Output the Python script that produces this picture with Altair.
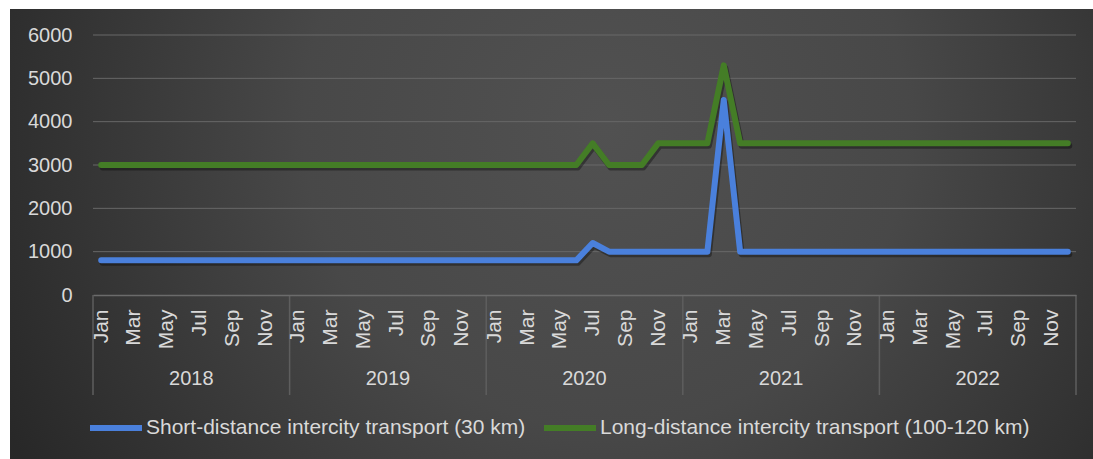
import json
import altair as alt
import pandas as pd

# ---------------- data ----------------
month_names = ["Jan", "Feb", "Mar", "Apr", "May", "Jun",
               "Jul", "Aug", "Sep", "Oct", "Nov", "Dec"]
years = ["2018", "2019", "2020", "2021", "2022"]
series_names = ["Short-distance intercity transport (30 km)",
                "Long-distance intercity transport (100-120 km)"]
series_colors = ["#4a80dc", "#447d26"]

short_values = [
    800, 800, 800, 800, 800, 800, 800, 800, 800, 800, 800, 800,          # 2018
    800, 800, 800, 800, 800, 800, 800, 800, 800, 800, 800, 800,          # 2019
    800, 800, 800, 800, 800, 800, 1200, 1000, 1000, 1000, 1000, 1000,    # 2020
    1000, 1000, 4500, 1000, 1000, 1000, 1000, 1000, 1000, 1000, 1000, 1000,  # 2021
    1000, 1000, 1000, 1000, 1000, 1000, 1000, 1000, 1000, 1000, 1000, 1000,  # 2022
]
long_values = [
    3000, 3000, 3000, 3000, 3000, 3000, 3000, 3000, 3000, 3000, 3000, 3000,  # 2018
    3000, 3000, 3000, 3000, 3000, 3000, 3000, 3000, 3000, 3000, 3000, 3000,  # 2019
    3000, 3000, 3000, 3000, 3000, 3000, 3500, 3000, 3000, 3000, 3500, 3500,  # 2020
    3500, 3500, 5300, 3500, 3500, 3500, 3500, 3500, 3500, 3500, 3500, 3500,  # 2021
    3500, 3500, 3500, 3500, 3500, 3500, 3500, 3500, 3500, 3500, 3500, 3500,  # 2022
]
y_ticks = [0, 1000, 2000, 3000, 4000, 5000, 6000]

# ---------------- tables ----------------
n = len(short_values)
short_df = pd.DataFrame({"idx": range(n), "value": short_values, "series": series_names[0]})
long_df = pd.DataFrame({"idx": range(n), "value": long_values, "series": series_names[1]})
all_df = pd.concat([short_df, long_df], ignore_index=True)
year_df = pd.DataFrame({"year": years, "mid": [5.5 + 12 * k for k in range(len(years))]})
sep_df = pd.DataFrame({"b": [-0.5 + 12 * k for k in range(len(years) + 1)]})
grid_df = pd.DataFrame({"g": y_ticks[1:]})

FONT = "Liberation Sans"
TXT = "#d9d9d9"
W, H = 983, 260
PAD = {"left": 93, "top": 35, "right": 17, "bottom": 164}

xscale = alt.Scale(domain=[-0.5, n - 0.5], nice=False, zero=False)
yscale = alt.Scale(domain=[0, 6000], nice=False)
cscale = alt.Scale(domain=series_names, range=series_colors)

label_expr = json.dumps(month_names) + "[datum.value % 12]"

x_axis = alt.Axis(
    values=list(range(0, n, 2)), labelExpr=label_expr, labelAngle=-90,
    labelAlign="right", labelBaseline="middle",
    labelFont=FONT, labelFontSize=21, labelColor=TXT, labelPadding=14,
    ticks=False, tickSize=0, domain=True, domainColor="#6b6b6b", domainWidth=1.5,
    grid=False, title=None, labelOverlap=False, labelFlush=False, labelBound=False,
    zindex=1,
)
y_axis = alt.Axis(
    values=y_ticks, format="d", labelFont=FONT, labelFontSize=20, labelColor=TXT,
    labelPadding=21, ticks=False, tickSize=0, domain=False, grid=False,
    title=None, zindex=1,
)

# background panel
bg = alt.Chart(pd.DataFrame({"a": [0]})).mark_rect(
    fill=alt.RadialGradient(
        gradient="radial",
        x1=0.55, y1=0.4, r1=0.0,
        x2=0.55, y2=0.4, r2=0.62,
        stops=[alt.GradientStop(color="#515151", offset=0.0),
               alt.GradientStop(color="#484848", offset=0.45),
               alt.GradientStop(color="#282828", offset=1.0)],
    )
).encode(
    x=alt.value(10 - PAD["left"]), x2=alt.value(1093 - PAD["left"]),
    y=alt.value(9 - PAD["top"]), y2=alt.value(459 - PAD["top"]),
)

grid = alt.Chart(grid_df).mark_rule(color="#686868", strokeWidth=1).encode(
    y=alt.Y("g:Q", scale=yscale, axis=y_axis)
)

seps = alt.Chart(sep_df).mark_rule(color="#5e5e5e", strokeWidth=1.5).encode(
    x=alt.X("b:Q", scale=xscale, axis=x_axis),
    y=alt.value(H), y2=alt.value(H + 100),
)

year_text = alt.Chart(year_df).mark_text(
    font=FONT, fontSize=20, color=TXT, baseline="middle", align="center"
).encode(
    x=alt.X("mid:Q", scale=xscale, axis=x_axis),
    y=alt.value(379 - PAD["top"]),
    text="year:N",
)

shadow = alt.Chart(all_df).mark_line(
    color="#000000", opacity=0.35, strokeWidth=6, strokeJoin="round",
    strokeCap="round", xOffset=1.5, yOffset=2.5
).encode(
    x=alt.X("idx:Q", scale=xscale, axis=x_axis),
    y=alt.Y("value:Q", scale=yscale, axis=y_axis),
    detail="series:N",
)

legend = alt.Legend(
    orient="none", legendX=-6, legendY=364, direction="horizontal",
    symbolType="stroke", symbolStrokeWidth=6, symbolSize=2704,
    labelFont=FONT, labelFontSize=21, labelColor=TXT, labelLimit=800,
    labelOffset=1, columnPadding=6, title=None, padding=0,
)

def series_layer(df):
    return alt.Chart(df).mark_line(
        strokeWidth=6, strokeJoin="round", strokeCap="round"
    ).encode(
        x=alt.X("idx:Q", scale=xscale, axis=x_axis),
        y=alt.Y("value:Q", scale=yscale, axis=y_axis),
        color=alt.Color("series:N", scale=cscale, legend=legend),
    )

long_line = series_layer(long_df)
short_line = series_layer(short_df)

chart = alt.layer(bg, grid, seps, year_text, shadow, long_line, short_line).properties(
    width=W, height=H, padding=PAD, autosize="none", background="white"
).configure_view(stroke=None)

chart.save("out.html", embed_options={"renderer": "svg", "actions": False})
